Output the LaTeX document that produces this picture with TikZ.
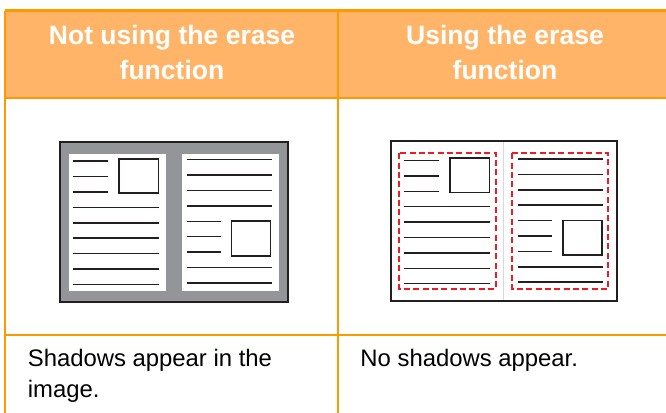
\documentclass[tikz,border=0pt]{standalone}
\usepackage{fontspec}
\setmainfont{Liberation Sans}
\definecolor{hdr}{RGB}{255,180,104}
\definecolor{brd}{RGB}{255,153,0}
\definecolor{ink}{RGB}{35,31,32}
\definecolor{shadowgray}{RGB}{147,149,152}
\definecolor{cut}{RGB}{237,28,36}
\tikzset{
  tline/.style={draw=ink, line width=1.1pt},
  sqbox/.style={draw=ink, line width=1.2pt},
  rulel/.style={draw=brd, line width=1.7pt},
  outerbox/.style={draw=ink, line width=1.5pt},
  cutbox/.style={draw=cut, line width=1.4pt, dash pattern=on 4.5pt off 2.5pt},
  htext/.style={text=white, font=\fontsize{19.9pt}{24pt}\selectfont\bfseries, inner sep=0pt, anchor=base},
  btext/.style={text=black, font=\fontsize{17.9pt}{22pt}\selectfont, inner sep=0pt, anchor=base west}
}
\newcommand\booklines{%
  \foreach \k in {0,1,2} {\draw[tline] (13.7,{19.5+15.4*\k}) -- (48.5,{19.5+15.4*\k});}
  \foreach \k in {3,4,5,6,7,8} {\draw[tline] (13.7,{19.5+15.4*\k}) -- (99.2,{19.5+15.4*\k});}
  \draw[sqbox] (59.4,17.2) rectangle (98.8,51.4);
  \foreach \k in {0,1,2,3,7,8} {\draw[tline] (127,{18+15.4*\k}) -- (212.7,{18+15.4*\k});}
  \foreach \k in {4,5,6} {\draw[tline] (127,{18+15.4*\k}) -- (161.5,{18+15.4*\k});}
  \draw[sqbox] (172,79.3) rectangle (211,114);
}
\begin{document}
\begin{tikzpicture}[x=0.75pt,y=-0.75pt]
\useasboundingbox (0,0) rectangle (666,412);
\clip (0,0) rectangle (666,412);
% header
\fill[hdr] (5.3,10.5) rectangle (673,98.3);
\draw[rulel] (5.3,10.5) -- (673,10.5);
\draw[rulel] (5.3,98.3) -- (673,98.3);
\draw[rulel] (5.3,334.7) -- (673,334.7);
\draw[rulel] (5.3,10.5) -- (5.3,420);
\draw[rulel] (337.7,10.5) -- (337.7,420);
\node[htext] (h1a) at (172,44) {Not using the erase};
\node[htext] (h1b) at (172,79) {function};
\node[htext] (h2a) at (505,44) {Using the erase};
\node[htext] (h2b) at (505,79) {function};
% left book
\begin{scope}[shift={(59.5,141.7)}]
  \fill[shadowgray] (0,0) rectangle (228,160);
  \fill[white] (9.5,12.5) rectangle (106.5,149);
  \fill[white] (122.5,12.5) rectangle (219.5,149);
  \draw[outerbox] (0,0) rectangle (228,160);
  \booklines
\end{scope}
% right book
\begin{scope}[shift={(390.7,141)}]
  \fill[white] (0,0) rectangle (226,160);
  \draw[gray!30, line width=0.4pt] (112.6,0) -- (112.6,160);
  \draw[outerbox] (0,0) rectangle (226,160);
  \draw[cutbox] (8.6,12.3) rectangle (105.3,147.7);
  \draw[cutbox] (121.6,12.3) rectangle (217.6,147.7);
  \booklines
\end{scope}
% body text
\node[btext] (b1a) at (27.6,366.7) {Shadows appear in the};
\node[btext] (b1b) at (27.6,397) {image.};
\node[btext] (b2a) at (360.2,366.7) {No shadows appear.};
\end{tikzpicture}
\end{document}
